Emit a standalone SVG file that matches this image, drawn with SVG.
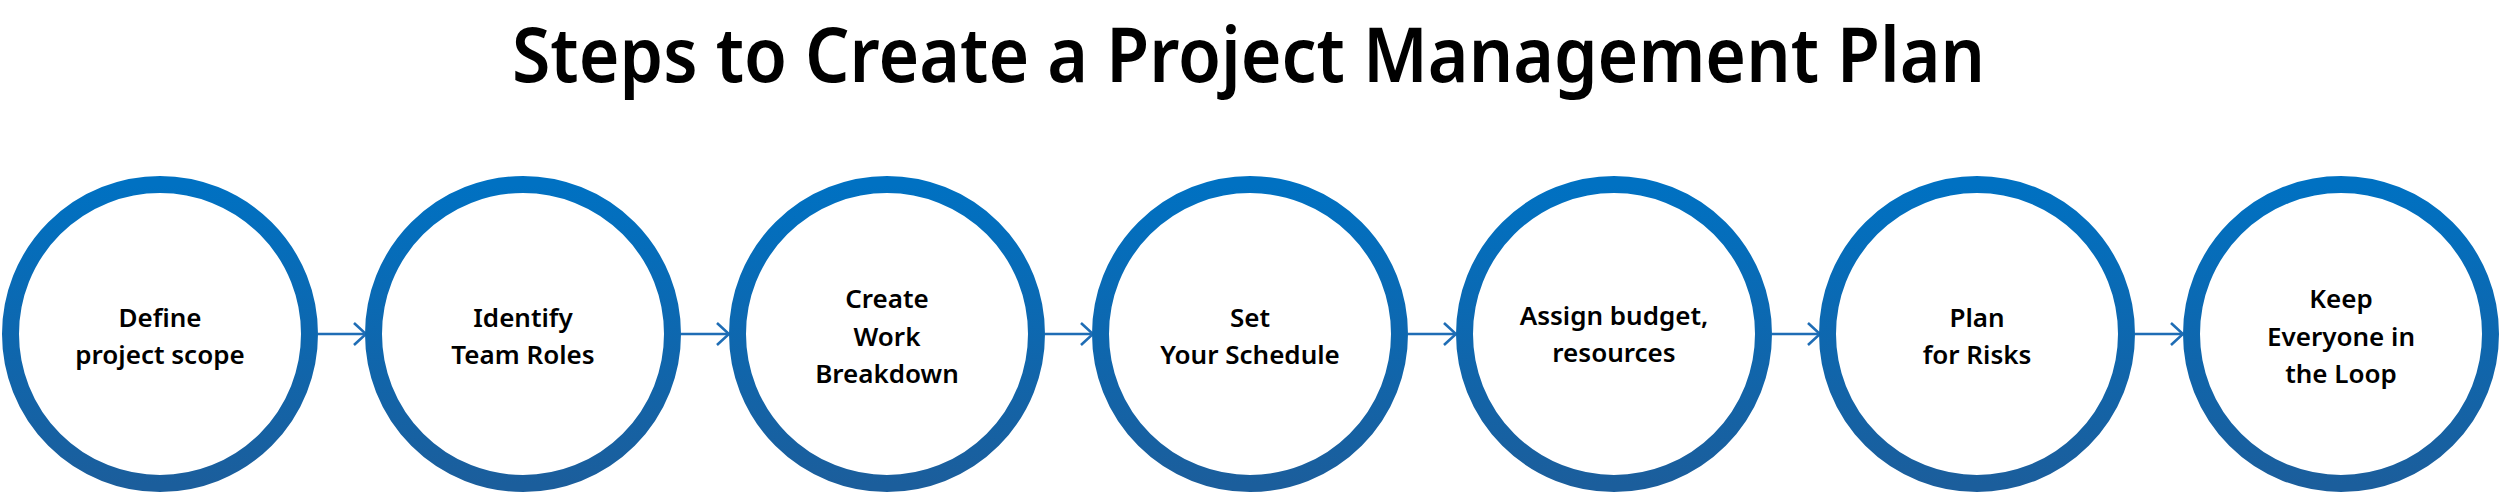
<svg xmlns="http://www.w3.org/2000/svg" width="2500" height="494" viewBox="0 0 2500 494">
<defs>
<linearGradient id="ring" x1="0" y1="0" x2="0" y2="1">
<stop offset="0" stop-color="#0071C2"/>
<stop offset="1" stop-color="#1B5E9C"/>
</linearGradient>
<marker id="arr" viewBox="0 0 14 24" refX="13" refY="12" markerWidth="14" markerHeight="24" markerUnits="userSpaceOnUse" orient="auto">
<path d="M1,1 L13,12 L1,23" fill="none" stroke="#1F6DB5" stroke-width="2.6"/>
</marker>
</defs>
<style>
.title{font-family:"Noto Sans","Open Sans",sans-serif;font-weight:600;font-size:76px;fill:#000}
.ring{fill:#fff;stroke:url(#ring);stroke-width:17}
.lbl{font-family:"Noto Sans","Open Sans",sans-serif;font-weight:600;font-size:26px;fill:#000;text-anchor:middle}
.conn{stroke:#1F6DB5;stroke-width:2.6;fill:none}
</style>
<rect width="2500" height="494" fill="#fff"/>
<text class="title" x="512" y="82" textLength="1473" lengthAdjust="spacingAndGlyphs">Steps to Create a Project Management Plan</text>
<g id="connectors">
<line class="conn" x1="318" y1="334" x2="366" y2="334" marker-end="url(#arr)"/>
<line class="conn" x1="681" y1="334" x2="729" y2="334" marker-end="url(#arr)"/>
<line class="conn" x1="1045" y1="334" x2="1093" y2="334" marker-end="url(#arr)"/>
<line class="conn" x1="1408" y1="334" x2="1456" y2="334" marker-end="url(#arr)"/>
<line class="conn" x1="1772" y1="334" x2="1820" y2="334" marker-end="url(#arr)"/>
<line class="conn" x1="2135" y1="334" x2="2183" y2="334" marker-end="url(#arr)"/>
</g>
<g id="node1">
<circle class="ring" cx="160" cy="334" r="149.5"/>
<text class="lbl" x="160" y="327">Define</text>
<text class="lbl" x="160" y="364">project scope</text>
</g>
<g id="node2">
<circle class="ring" cx="523" cy="334" r="149.5"/>
<text class="lbl" x="523" y="327">Identify</text>
<text class="lbl" x="523" y="364">Team Roles</text>
</g>
<g id="node3">
<circle class="ring" cx="887" cy="334" r="149.5"/>
<text class="lbl" x="887" y="308">Create</text>
<text class="lbl" x="887" y="346">Work</text>
<text class="lbl" x="887" y="383">Breakdown</text>
</g>
<g id="node4">
<circle class="ring" cx="1250" cy="334" r="149.5"/>
<text class="lbl" x="1250" y="327">Set</text>
<text class="lbl" x="1250" y="364">Your Schedule</text>
</g>
<g id="node5">
<circle class="ring" cx="1614" cy="334" r="149.5"/>
<text class="lbl" x="1614" y="325">Assign budget,</text>
<text class="lbl" x="1614" y="362">resources</text>
</g>
<g id="node6">
<circle class="ring" cx="1977" cy="334" r="149.5"/>
<text class="lbl" x="1977" y="327">Plan</text>
<text class="lbl" x="1977" y="364">for Risks</text>
</g>
<g id="node7">
<circle class="ring" cx="2341" cy="334" r="149.5"/>
<text class="lbl" x="2341" y="308">Keep</text>
<text class="lbl" x="2341" y="346">Everyone in</text>
<text class="lbl" x="2341" y="383">the Loop</text>
</g>
</svg>
